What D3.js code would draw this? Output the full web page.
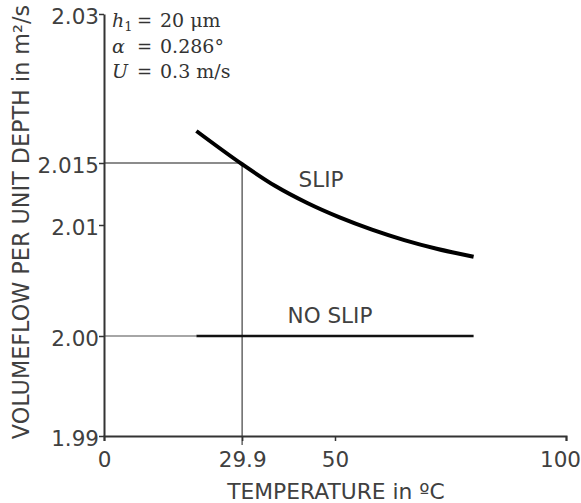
<!DOCTYPE html>
<html>
<head>
<meta charset="utf-8">
<script src="https://cdn.jsdelivr.net/npm/d3@7"></script>
<style>
  body { margin: 0; background: #fff; }
  svg text { font-family: "DejaVu Sans", Verdana, sans-serif; fill: #404040; }
  .note text { font-family: "DejaVu Serif", "Liberation Serif", serif; fill: #333; }
</style>
</head>
<body>
<div id="chart"></div>
<script>
/**
 * DATA
 * */
const xTicks = [0, 29.9, 50, 100];
const yTicks = [1.99, 2.00, 2.01, 2.015, 2.03];
const yTickLabels = ["1.99", "2.00", "2.01", "2.015", "2.03"];

const temps = [20, 29.9, 37, 44, 51, 58, 65, 72, 80];
const slip = [2.01822, 2.0149, 2.01316, 2.01177, 2.01061, 2.00958, 2.00864, 2.00786, 2.00714];
const noSlip = [2.00, 2.00, 2.00, 2.00, 2.00, 2.00, 2.00, 2.00, 2.00];

// reference point marked on the chart
const refTemp = 29.9, refFlow = 2.015;

/**
 * CONSTANTS
 * */
const width = 581, height = 503;

const svg = d3.select("#chart").append("svg")
  .attr("width", width)
  .attr("height", height);

const x = d3.scaleLinear().domain([0, 100]).range([104, 566]);
// the original axis is not evenly spaced, so map each tick to its own spot
const y = d3.scaleLinear().domain(yTicks).range([436, 336, 225, 163, 14]);

// reference lines
const ref = svg.append("g").attr("stroke", "#666").attr("stroke-width", 1.5);
ref.append("line")
  .attr("x1", x(0)).attr("x2", x(refTemp))
  .attr("y1", y(refFlow)).attr("y2", y(refFlow));
ref.append("line")
  .attr("x1", x(refTemp)).attr("x2", x(refTemp))
  .attr("y1", y(refFlow)).attr("y2", y(1.99) + 9);
ref.append("line")
  .attr("x1", x(0)).attr("x2", x(temps[0]))
  .attr("y1", y(2.00)).attr("y2", y(2.00))
  .attr("stroke", "#888");

// axes
const xAxis = svg.append("g")
  .attr("transform", `translate(0,${y(1.99)})`)
  .call(d3.axisBottom(x).tickValues(xTicks).tickFormat(d => d)
    .tickSize(5).tickSizeOuter(5).tickPadding(11));

const yAxis = svg.append("g")
  .attr("transform", `translate(${x(0)},0)`)
  .call(d3.axisLeft(y).tickValues(yTicks).tickFormat((d, i) => yTickLabels[i])
    .tickSize(5).tickSizeOuter(0).tickPadding(0));

[xAxis, yAxis].forEach(g => {
  g.select(".domain").attr("stroke", "#333").attr("stroke-width", 2);
  g.selectAll(".tick line").attr("stroke", "#333").attr("stroke-width", 1.5);
  g.selectAll("text").attr("font-size", 21.5).attr("fill", "#404040")
    .style("font-family", "'DejaVu Sans', Verdana, sans-serif");
});
yAxis.selectAll("text").attr("dy", "0.42em");
// last label sits a little left of its tick, as in the original
xAxis.selectAll(".tick text").filter(d => d === 100).attr("dx", -6);

// lines
const line = d3.line().curve(d3.curveMonotoneX);

svg.append("path")
  .attr("d", line(temps.map((t, i) => [x(t), y(slip[i])])))
  .attr("fill", "none")
  .attr("stroke", "#000")
  .attr("stroke-width", 4);

svg.append("path")
  .attr("d", line(temps.map((t, i) => [x(t), y(noSlip[i])])))
  .attr("fill", "none")
  .attr("stroke", "#111")
  .attr("stroke-width", 2.5);

// series labels
svg.append("text")
  .attr("x", 321).attr("y", 187)
  .attr("text-anchor", "middle")
  .attr("font-size", 21.5)
  .text("SLIP");

svg.append("text")
  .attr("x", 330).attr("y", 323)
  .attr("text-anchor", "middle")
  .attr("font-size", 21.5)
  .text("NO SLIP");

// axis titles
svg.append("text")
  .attr("x", 336).attr("y", 499)
  .attr("text-anchor", "middle")
  .attr("font-size", 21.8)
  .text("TEMPERATURE in ºC");

svg.append("text")
  .attr("transform", "translate(29,222) rotate(-90)")
  .attr("text-anchor", "middle")
  .attr("font-size", 22.3)
  .text("VOLUMEFLOW PER UNIT DEPTH in m²/s");

// parameter notes
const notes = [
  { v: "h", sub: "1", val: "20 μm" },
  { v: "α", sub: "", val: "0.286°" },
  { v: "U", sub: "", val: "0.3 m/s" },
];
const note = svg.append("g").attr("class", "note");
notes.forEach((d, i) => {
  const yy = 27 + i * 25.5;
  const t = note.append("text").attr("x", 112).attr("y", yy).attr("font-size", 19);
  t.append("tspan").attr("font-style", "italic").text(d.v);
  if (d.sub) t.append("tspan").attr("font-size", 13).attr("dy", 4).text(d.sub);
  note.append("text").attr("x", 137).attr("y", yy).attr("font-size", 18).text("=");
  note.append("text").attr("x", 160).attr("y", yy).attr("font-size", 19).text(d.val);
});
</script>
</body>
</html>
